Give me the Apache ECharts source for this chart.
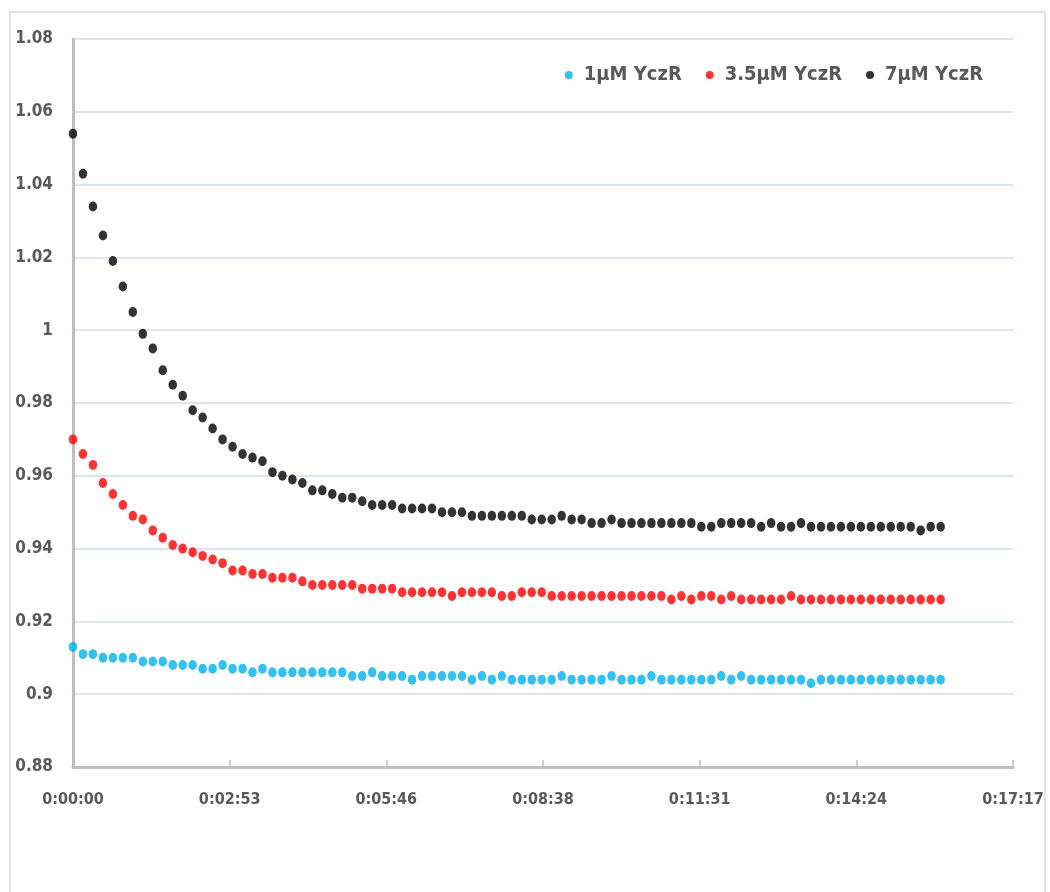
<!DOCTYPE html>
<html>
<head>
<meta charset="utf-8">
<script src="https://cdn.jsdelivr.net/npm/echarts@6/dist/echarts.min.js"></script>
<style>
html,body{margin:0;padding:0;background:#fff;}
#chart{width:1050px;height:892px;}
</style>
</head>
<body>
<div id="chart"></div>
<script>
// time of each reading, seconds
var timesSec = [0,11,22,33,44,55,66,77,88,99,110,121,132,143,154,165,176,187,198,209,220,231,242,253,264,275,286,297,308,319,330,341,352,363,374,385,396,407,418,429,440,451,462,473,484,495,506,517,528,539,550,561,572,583,594,605,616,627,638,649,660,671,682,693,704,715,726,737,748,759,770,781,792,803,814,825,836,847,858,869,880,891,902,913,924,935,946,957];

var seriesNames = ['1\u03bcM YczR', '3.5\u03bcM YczR', '7\u03bcM YczR'];

var y1uM = [0.913,0.911,0.911,0.910,0.910,0.910,0.910,0.909,0.909,0.909,
  0.908,0.908,0.908,0.907,0.907,0.908,0.907,0.907,0.906,0.907,
  0.906,0.906,0.906,0.906,0.906,0.906,0.906,0.906,0.905,0.905,
  0.906,0.905,0.905,0.905,0.904,0.905,0.905,0.905,0.905,0.905,
  0.904,0.905,0.904,0.905,0.904,0.904,0.904,0.904,0.904,0.905,
  0.904,0.904,0.904,0.904,0.905,0.904,0.904,0.904,0.905,0.904,
  0.904,0.904,0.904,0.904,0.904,0.905,0.904,0.905,0.904,0.904,
  0.904,0.904,0.904,0.904,0.903,0.904,0.904,0.904,0.904,0.904,
  0.904,0.904,0.904,0.904,0.904,0.904,0.904,0.904];

var y35uM = [0.970,0.966,0.963,0.958,0.955,0.952,0.949,0.948,0.945,0.943,
  0.941,0.940,0.939,0.938,0.937,0.936,0.934,0.934,0.933,0.933,
  0.932,0.932,0.932,0.931,0.930,0.930,0.930,0.930,0.930,0.929,
  0.929,0.929,0.929,0.928,0.928,0.928,0.928,0.928,0.927,0.928,
  0.928,0.928,0.928,0.927,0.927,0.928,0.928,0.928,0.927,0.927,
  0.927,0.927,0.927,0.927,0.927,0.927,0.927,0.927,0.927,0.927,
  0.926,0.927,0.926,0.927,0.927,0.926,0.927,0.926,0.926,0.926,
  0.926,0.926,0.927,0.926,0.926,0.926,0.926,0.926,0.926,0.926,
  0.926,0.926,0.926,0.926,0.926,0.926,0.926,0.926];

var y7uM = [1.054,1.043,1.034,1.026,1.019,1.012,1.005,0.999,0.995,0.989,
  0.985,0.982,0.978,0.976,0.973,0.970,0.968,0.966,0.965,0.964,
  0.961,0.960,0.959,0.958,0.956,0.956,0.955,0.954,0.954,0.953,
  0.952,0.952,0.952,0.951,0.951,0.951,0.951,0.950,0.950,0.950,
  0.949,0.949,0.949,0.949,0.949,0.949,0.948,0.948,0.948,0.949,
  0.948,0.948,0.947,0.947,0.948,0.947,0.947,0.947,0.947,0.947,
  0.947,0.947,0.947,0.946,0.946,0.947,0.947,0.947,0.947,0.946,
  0.947,0.946,0.946,0.947,0.946,0.946,0.946,0.946,0.946,0.946,
  0.946,0.946,0.946,0.946,0.946,0.945,0.946,0.946];

var xTickLabels = ['0:00:00','0:02:53','0:05:46','0:08:38','0:11:31','0:14:24','0:17:17'];
var yTickLabels = ['0.88','0.9','0.92','0.94','0.96','0.98','1','1.02','1.04','1.06','1.08'];

var colors = ['#00b0f0', '#ff0000', '#000000'];

function pairs(ys) {
  return ys.map(function (v, i) { return [timesSec[i], v]; });
}

var FONT = "'Liberation Sans Narrow', 'DejaVu Sans Condensed', 'Liberation Sans', sans-serif";
var TEXT = '#595959';

var chart = echarts.init(document.getElementById('chart'), null, {renderer: 'canvas'});
chart.setOption({
  animation: false,
  backgroundColor: '#ffffff',
  graphic: [{
    type: 'rect',
    shape: {x: 10, y: 12, width: 1035, height: 900},
    style: {fill: 'none', stroke: '#d9d9d9', lineWidth: 1.5},
    silent: true,
    z: -10
  }],
  grid: {left: 73, top: 39, width: 940, height: 728, containLabel: false},
  legend: {
    right: 62,
    top: 60,
    icon: 'circle',
    itemWidth: 8,
    itemHeight: 8,
    itemGap: 24,
    textStyle: {fontFamily: FONT, fontWeight: 'bold', fontSize: 20, color: TEXT, padding: [0, 0, 0, 6]},
    data: seriesNames
  },
  xAxis: {
    type: 'value',
    min: 0,
    max: 1036.8,
    interval: 172.8,
    axisLine: {show: true, lineStyle: {color: '#bfbfbf', width: 3}},
    axisTick: {show: true, inside: true, length: 7, lineStyle: {color: '#bfbfbf', width: 1.5}},
    splitLine: {show: false},
    axisLabel: {
      margin: 25,
      fontFamily: FONT, fontWeight: 'bold', fontSize: 16, color: TEXT,
      showMaxLabel: true, showMinLabel: true,
      formatter: function (v, idx) { return xTickLabels[idx]; }
    }
  },
  yAxis: {
    type: 'value',
    min: 0.88,
    max: 1.08,
    interval: 0.02,
    axisLine: {show: true, lineStyle: {color: '#bfbfbf', width: 3}},
    axisTick: {show: false},
    splitLine: {show: true, lineStyle: {color: '#cfdbee', width: 1.5}},
    axisLabel: {
      margin: 20,
      fontFamily: FONT, fontWeight: 'bold', fontSize: 17, color: TEXT,
      formatter: function (v, idx) { return yTickLabels[idx]; }
    }
  },
  series: [
    {name: seriesNames[0], type: 'scatter', data: pairs(y1uM), symbol: 'circle', symbolSize: [8.5, 10], itemStyle: {color: colors[0]}, clip: false, z: 5},
    {name: seriesNames[1], type: 'scatter', data: pairs(y35uM), symbol: 'circle', symbolSize: [8.5, 10], itemStyle: {color: colors[1]}, clip: false, z: 5},
    {name: seriesNames[2], type: 'scatter', data: pairs(y7uM), symbol: 'circle', symbolSize: [8.5, 10], itemStyle: {color: colors[2]}, clip: false, z: 5}
  ]
});
</script>
</body>
</html>
